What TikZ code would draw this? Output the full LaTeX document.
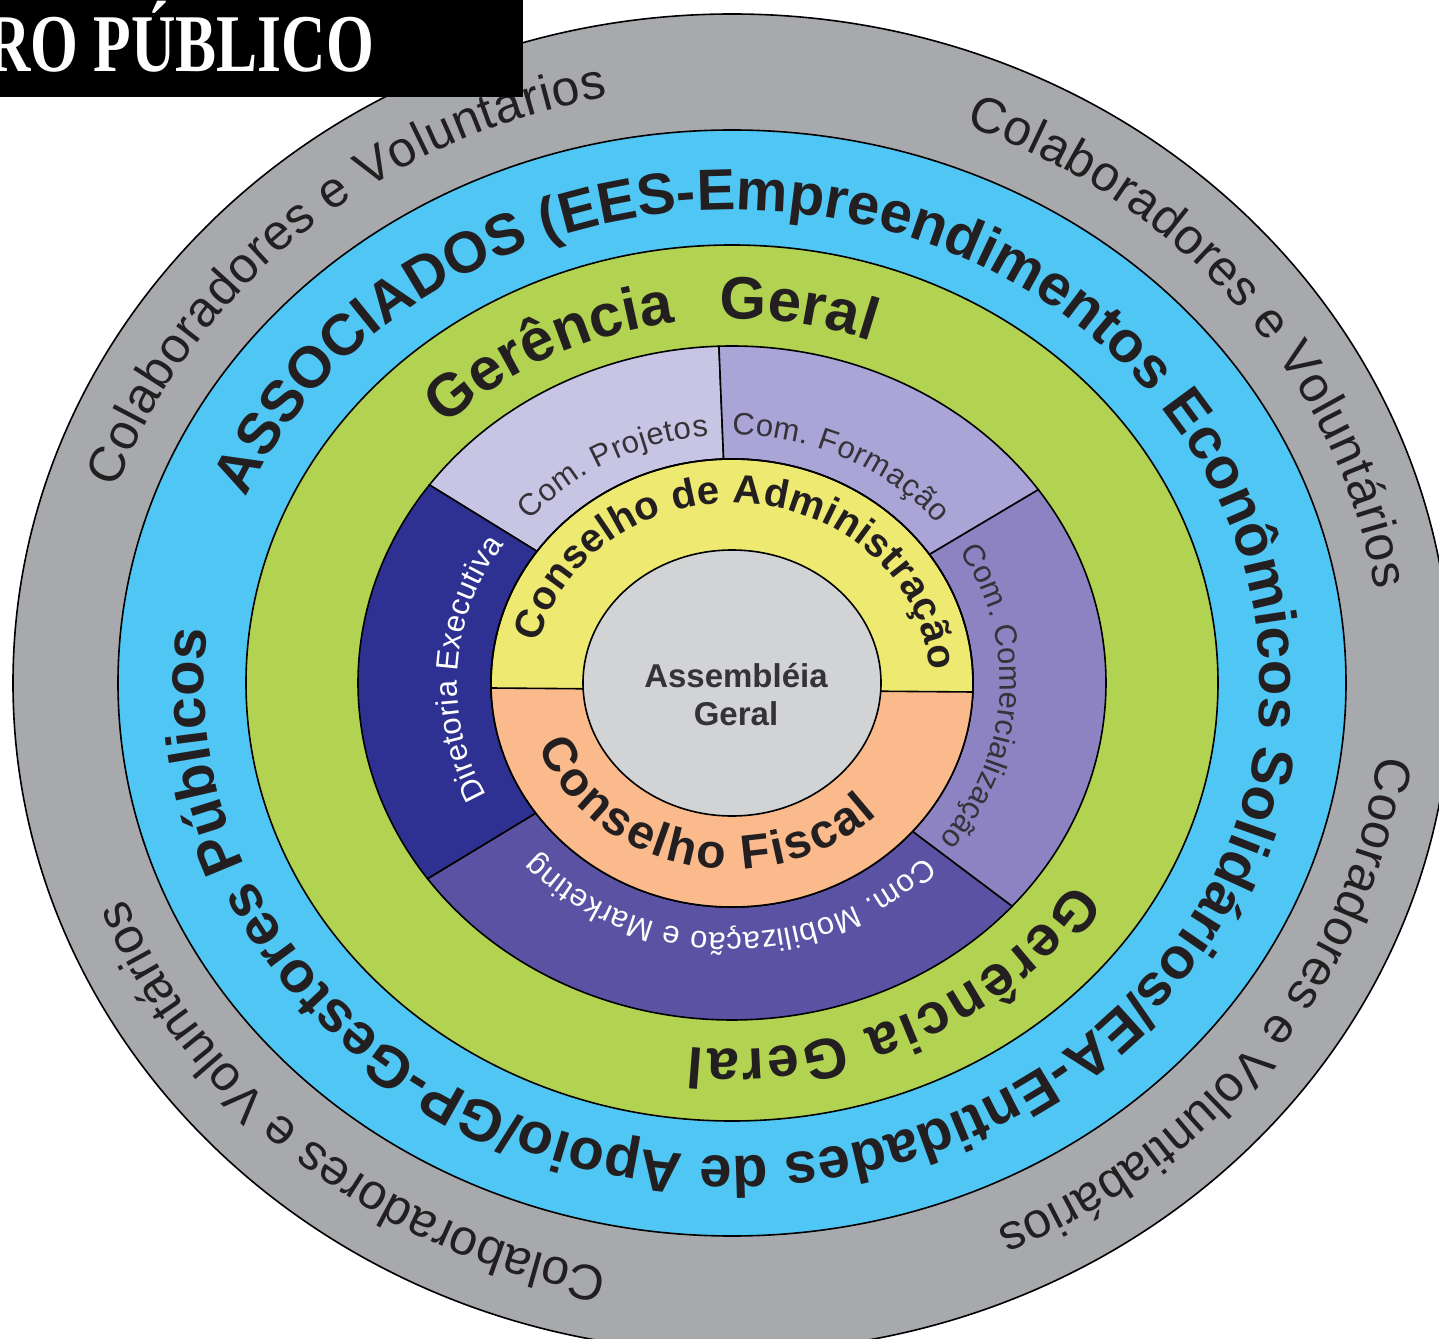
\documentclass[tikz,border=0pt]{standalone}
\usepackage{fontspec}
\setmainfont{Liberation Sans}
\newfontfamily\titlefont{Liberation Serif}
\usetikzlibrary{decorations.text}
\definecolor{outergray}{RGB}{167, 169, 172}
\definecolor{assocblue}{RGB}{80, 198, 244}
\definecolor{gerengreen}{RGB}{178, 210, 82}
\definecolor{diretblue}{RGB}{46, 49, 146}
\definecolor{projlav}{RGB}{200, 196, 228}
\definecolor{formlav}{RGB}{170, 165, 214}
\definecolor{comerlav}{RGB}{141, 131, 194}
\definecolor{mobilav}{RGB}{91, 82, 164}
\definecolor{admyellow}{RGB}{238, 233, 112}
\definecolor{fiscorange}{RGB}{250, 186, 140}
\definecolor{assemgray}{RGB}{209, 211, 212}
\definecolor{inktext}{RGB}{35, 31, 32}
\definecolor{comtext}{RGB}{51, 51, 56}
\newcommand{\grayfont}{\fontsize{50}{54}\selectfont}
\newcommand{\bandfont}{\fontsize{58}{62}\selectfont\bfseries}
\newcommand{\gerfont}{\fontsize{60}{64}\selectfont\bfseries}
\newcommand{\gerlowfont}{\fontsize{57}{61}\selectfont\bfseries}
\newcommand{\conffont}{\fontsize{40}{44}\selectfont\bfseries}
\newcommand{\fiscfont}{\fontsize{48}{52}\selectfont\bfseries}
\newcommand{\comfont}{\fontsize{31}{35}\selectfont}
\newcommand{\dirfont}{\fontsize{31}{35}\selectfont}
% one committee slice of the purple ring
\newcommand{\comsector}[3]{%
  \filldraw[ring, fill=#1] (#2:374 and 337) arc[start angle=#2, end angle=#3, x radius=374, y radius=337]
       -- (#3:241 and 224) arc[start angle=#3, end angle=#2, x radius=241, y radius=224] -- cycle;}
\tikzset{
  ring/.style={draw=black, line width=1.6pt},
  bandtext/.style={decorate, decoration={text along path, text align={fit to path}, text color=#1}},
  gaptext/.style={decorate, decoration={text along path, text align={fit to path stretching spaces}, text color=#1}},
}

\begin{document}
\begin{tikzpicture}[x=1pt, y=1pt]
            \useasboundingbox (-732,-655) rectangle (707,683);
            \fill[white] (-732,-655) rectangle (707,683);
            % Rings
            \filldraw[ring, fill=outergray]  (0,0) ellipse[x radius=719, y radius=669];
            \filldraw[ring, fill=assocblue]  (0,0) ellipse[x radius=614, y radius=553];
            \filldraw[ring, fill=gerengreen] (0,0) ellipse[x radius=486, y radius=438];
            % Committees
            \comsector{projlav}{92}{144}
            \comsector{formlav}{35}{92}
            \comsector{comerlav}{-41.5}{35}
            \comsector{mobilav}{-144.5}{-41.5}
            \comsector{diretblue}{144}{215.5}
            % Councils
            \filldraw[ring, fill=admyellow] (0,0) ellipse[x radius=241, y radius=224];
            \begin{scope}
              \clip (-260,-5) -- (260,-9) -- (260,-260) -- (-260,-260) -- cycle;
              \fill[fiscorange] (0,0) ellipse[x radius=241, y radius=224];
            \end{scope}
            \draw[ring] (0,0) ellipse[x radius=241, y radius=224];
            \draw[ring] (-241,-5) -- (241,-9);
            \filldraw[ring, fill=assemgray] (0,0) ellipse[x radius=149, y radius=133];
            \node[align=center, text=comtext, font=\fontsize{33}{38}\selectfont\bfseries] (assembleia) at (4,-12) {Assembléia\\Geral};
            % Outer band texts
            \path[bandtext=inktext, decoration={text={|\grayfont|Colaboradores e Voluntários}}]
                 (161:651 and 597) arc[start angle=161, end angle=101, x radius=651, y radius=597];
            \path[bandtext=inktext, decoration={text={|\grayfont|Colaboradores e Voluntários}}]
                 (69:651 and 597) arc[start angle=69, end angle=9, x radius=651, y radius=597];
            \path[bandtext=inktext, decoration={text={|\grayfont|Cooradores e Voluntiabários}}]
                 (-7:651 and 597) arc[start angle=-7, end angle=-66, x radius=651, y radius=597];
            \path[bandtext=inktext, decoration={text={|\grayfont|Colaboradores e Voluntários}}]
                 (-101:651 and 597) arc[start angle=-101, end angle=-158, x radius=651, y radius=597];
            \path[bandtext=inktext, decoration={text={|\bandfont|ASSOCIADOS (EES-Empreendimentos Econômicos Solidários/EA-Entidades de Apoio/GP-Gestores Públicos}}]
                 (157:528 and 473) arc[start angle=157, end angle=-186, x radius=528, y radius=473];
            \path[gaptext=inktext, decoration={text={|\gerfont|Gerência Geral}}]
                 (135:406 and 364) arc[start angle=135, end angle=70, x radius=406, y radius=364];
            \path[bandtext=inktext, decoration={text={|\gerlowfont|Gerência Geral}}]
                 (-33:408 and 366) arc[start angle=-33, end angle=-96, x radius=408, y radius=366];
            % Committee texts
            \path[bandtext=comtext, decoration={text={|\comfont|Com. Projetos}}]
                 (139:268 and 248) arc[start angle=139, end angle=95, x radius=268, y radius=248];
            \path[bandtext=comtext, decoration={text={|\comfont|Com. Formação}}]
                 (90:268 and 248) arc[start angle=90, end angle=40, x radius=268, y radius=248];
            \path[bandtext=comtext, decoration={text={|\comfont|Com. Comercialização}}]
                 (32:268 and 248) arc[start angle=32, end angle=-39, x radius=268, y radius=248];
            \path[bandtext=white, decoration={text={|\comfont|Com. Mobilização e Marketing}}]
                 (-44:268 and 250) arc[start angle=-44, end angle=-137, x radius=268, y radius=250];
            \path[bandtext=white, decoration={text={|\dirfont|Diretoria Executiva}}]
                 (207:275 and 248) arc[start angle=207, end angle=146, x radius=275, y radius=248];
            % Council texts
            \path[bandtext=inktext, decoration={text={|\conffont|Conselho de Administração}}]
                 (167:198 and 180) arc[start angle=167, end angle=4, x radius=198, y radius=180];
            \path[bandtext=inktext, decoration={text={|\fiscfont|Conselho Fiscal}}]
                 (-160:206 and 186) arc[start angle=-160, end angle=-45, x radius=206, y radius=186];
            % Title box
            \fill[black] (-732,683) rectangle (-209,586);
            \node[anchor=base west, text=white, inner sep=0pt] (title) at (-746,611)
                 {\titlefont\bfseries\fontsize{82}{82}\selectfont\scalebox{0.75}[1]{RO PÚBLICO}};
\end{tikzpicture}
\end{document}
